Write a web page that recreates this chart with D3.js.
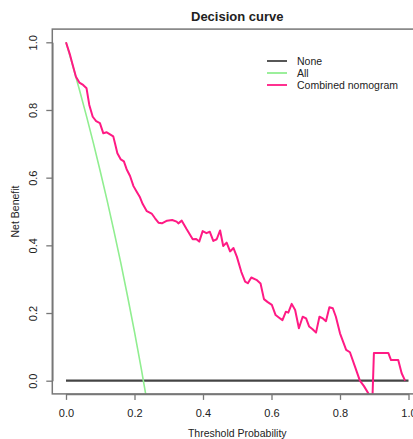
<!DOCTYPE html>
<html>
<head>
<meta charset="utf-8">
<script src="https://cdn.jsdelivr.net/npm/d3@7"></script>
<style>
  body { margin: 0; background: #fff; }
  text { font-family: "Liberation Sans", Arial, sans-serif; fill: #222; }
</style>
</head>
<body>
<div id="my_dataviz"></div>
<script>
// threshold probabilities and net benefit
var thresholds = [0, 0.012, 0.021, 0.029, 0.039, 0.05, 0.06, 0.068, 0.078, 0.088, 0.099, 0.109, 0.119, 0.138, 0.143, 0.15,
  0.16, 0.169, 0.177, 0.187, 0.197, 0.206, 0.216, 0.224, 0.236, 0.25, 0.26, 0.27, 0.28, 0.295, 0.31, 0.323, 0.328, 0.338,
  0.352, 0.37, 0.38, 0.389, 0.399, 0.41, 0.42, 0.43, 0.44, 0.45, 0.459, 0.469, 0.479, 0.489, 0.499, 0.512, 0.523, 0.531,
  0.541, 0.556, 0.568, 0.578, 0.588, 0.601, 0.612, 0.625, 0.632, 0.642, 0.649, 0.659, 0.669, 0.68, 0.691, 0.701, 0.71,
  0.72, 0.73, 0.74, 0.75, 0.759, 0.769, 0.779, 0.788, 0.8, 0.818, 0.829, 0.844, 0.858, 0.87, 0.883, 0.89, 0.899, 0.941,
  0.949, 0.97, 0.98, 0.99];
var nomogram = [1.0, 0.962, 0.928, 0.898, 0.881, 0.874, 0.864, 0.815, 0.78, 0.767, 0.761, 0.731, 0.734, 0.722, 0.702, 0.672,
  0.654, 0.648, 0.625, 0.605, 0.575, 0.559, 0.542, 0.522, 0.501, 0.494, 0.48, 0.467, 0.465, 0.473, 0.475, 0.47, 0.465, 0.473,
  0.448, 0.418, 0.419, 0.411, 0.442, 0.436, 0.44, 0.413, 0.418, 0.444, 0.398, 0.408, 0.382, 0.392, 0.366, 0.321, 0.293, 0.288,
  0.305, 0.298, 0.287, 0.241, 0.233, 0.224, 0.194, 0.184, 0.179, 0.204, 0.201, 0.227, 0.209, 0.155, 0.189, 0.184, 0.16,
  0.152, 0.142, 0.189, 0.184, 0.176, 0.217, 0.214, 0.189, 0.14, 0.091, 0.084, 0.041, 0.0, -0.016, -0.038, -0.2, 0.082, 0.082,
  0.061, 0.061, 0.022, 0.0];

var allX = [0, 0.02, 0.04, 0.06, 0.08, 0.1, 0.12, 0.14, 0.16, 0.18, 0.2, 0.22, 0.24];
var allY = [1.0, 0.93, 0.857, 0.781, 0.702, 0.619, 0.533, 0.442, 0.348, 0.248, 0.144, 0.034, -0.082];

var noneX = [0, 1];
var noneY = [0, 0];

var xTicks = [0, 0.2, 0.4, 0.6, 0.8, 1.0];
var yTicks = [0, 0.2, 0.4, 0.6, 0.8, 1.0];

var legendNames = ["None", "All", "Combined nomogram"];
var legendColors = ["#444", "#90EE90", "#FF1A84"];

var W = 413, H = 439;

var svg = d3.select("#my_dataviz").append("svg")
  .attr("width", W)
  .attr("height", H);

// R style: data range 0..1 padded by 4%
var x = d3.scaleLinear().domain([0, 1]).range([66, 408.5]);
var y = d3.scaleLinear().domain([0, 1]).range([380.7, 42.3]);

var box = {left: x(-0.04), right: x(1.04), top: y(1.039), bottom: y(-0.039)};

svg.append("clipPath").attr("id", "plotclip")
  .append("rect")
  .attr("x", box.left).attr("y", box.top)
  .attr("width", box.right - box.left).attr("height", box.bottom - box.top);

var plot = svg.append("g").attr("clip-path", "url(#plotclip)");

var line = d3.line()
  .x(function(d) { return x(d[0]); })
  .y(function(d) { return y(d[1]); });

plot.append("path")
  .datum(noneX.map(function(v, i) { return [v, noneY[i]]; }))
  .attr("d", line)
  .attr("fill", "none")
  .attr("stroke", legendColors[0])
  .attr("stroke-width", 2.2);

plot.append("path")
  .datum(allX.map(function(v, i) { return [v, allY[i]]; }))
  .attr("d", line)
  .attr("fill", "none")
  .attr("stroke", legendColors[1])
  .attr("stroke-width", 1.6);

plot.append("path")
  .datum(thresholds.map(function(v, i) { return [v, nomogram[i]]; }))
  .attr("d", line)
  .attr("fill", "none")
  .attr("stroke", legendColors[2])
  .attr("stroke-width", 2)
  .attr("stroke-linejoin", "round");

// frame
svg.append("rect")
  .attr("x", box.left).attr("y", box.top)
  .attr("width", box.right - box.left).attr("height", box.bottom - box.top)
  .attr("fill", "none")
  .attr("stroke", "#777")
  .attr("stroke-width", 1.5);

// x axis
var xAxis = svg.append("g")
  .attr("transform", "translate(0," + box.bottom + ")")
  .call(d3.axisBottom(x).tickValues(xTicks).tickSize(6).tickSizeOuter(0).tickFormat(d3.format(".1f")));
xAxis.select(".domain").attr("stroke", "#777").attr("stroke-width", 1.5);
xAxis.selectAll(".tick line").attr("stroke", "#777").attr("stroke-width", 1.3);
xAxis.selectAll(".tick text")
  .attr("y", 15)
  .style("font-size", "11px")
  .style("font-family", "Liberation Sans, Arial, sans-serif")
  .attr("fill", "#222");

// y axis
var yAxis = svg.append("g")
  .attr("transform", "translate(" + box.left + ",0)")
  .call(d3.axisLeft(y).tickValues(yTicks).tickSize(6).tickSizeOuter(0).tickFormat(d3.format(".1f")));
yAxis.select(".domain").attr("stroke", "#777").attr("stroke-width", 1.5);
yAxis.selectAll(".tick line").attr("stroke", "#777").attr("stroke-width", 1.3);
yAxis.selectAll(".tick text")
  .attr("x", 0).attr("dy", 0)
  .attr("transform", "translate(-19,0) rotate(-90)")
  .attr("text-anchor", "middle")
  .attr("dominant-baseline", "central")
  .style("font-size", "11px")
  .style("font-family", "Liberation Sans, Arial, sans-serif")
  .attr("fill", "#222");

// titles
svg.append("text")
  .text("Decision curve")
  .attr("x", (box.left + box.right) / 2)
  .attr("y", 21)
  .attr("text-anchor", "middle")
  .style("font-size", "13px")
  .style("font-weight", "bold");

svg.append("text")
  .text("Threshold Probability")
  .attr("x", (box.left + box.right) / 2)
  .attr("y", 437)
  .attr("text-anchor", "middle")
  .style("font-size", "10.5px");

svg.append("text")
  .text("Net Benefit")
  .attr("transform", "translate(19," + (box.top + box.bottom) / 2 + "),rotate(-90)")
  .attr("text-anchor", "middle")
  .style("font-size", "10.5px");

// legend
var legend = svg.append("g").attr("transform", "translate(267,61)");
legendNames.forEach(function(name, i) {
  var g = legend.append("g").attr("transform", "translate(0," + i * 12 + ")");
  g.append("line")
    .attr("x1", 0).attr("x2", 20)
    .attr("stroke", legendColors[i])
    .attr("stroke-width", 1.8);
  g.append("text")
    .text(name)
    .attr("x", 30)
    .attr("dy", "0.35em")
    .style("font-size", "10.5px");
});
</script>
</body>
</html>
